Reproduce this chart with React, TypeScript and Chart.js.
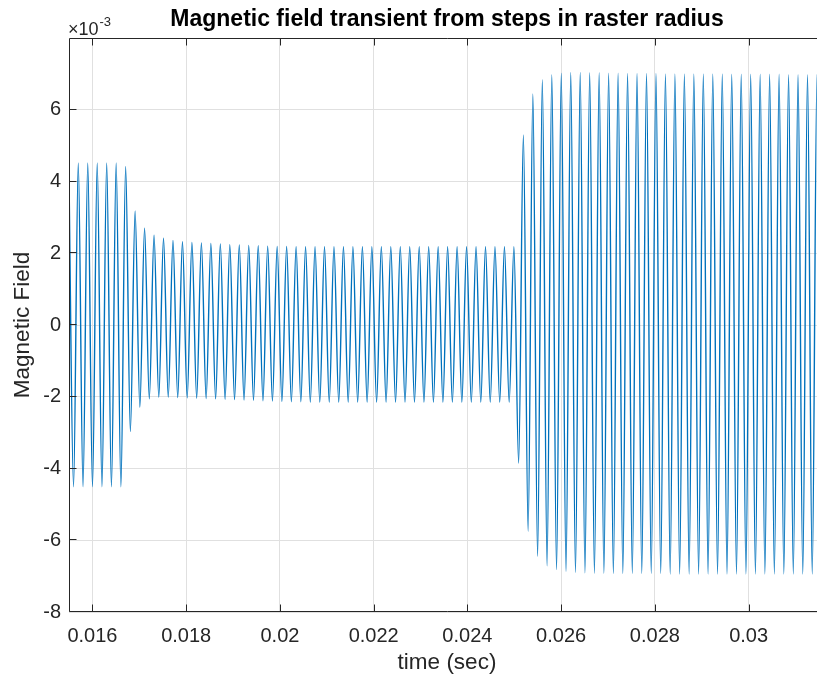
import { useEffect, useRef } from 'react';
import { Chart, registerables } from 'chart.js';

Chart.register(...registerables);

const TITLE = 'Magnetic field transient from steps in raster radius';
const X_LABEL = 'time (sec)';
const Y_LABEL = 'Magnetic Field';
const Y_EXP_BASE = '×10';
const Y_EXP_POWER = '-3';

const X_MIN = 0.0155;
const X_MAX = 0.03163;
const Y_MIN = -8;
const Y_MAX = 8;

const X_TICKS = [0.016, 0.018, 0.02, 0.022, 0.024, 0.026, 0.028, 0.03];
const X_TICK_LABELS = ['0.016', '0.018', '0.02', '0.022', '0.024', '0.026', '0.028', '0.03'];
const Y_TICKS = [-8, -6, -4, -2, 0, 2, 4, 6];
const Y_TICK_LABELS = ['-8', '-6', '-4', '-2', '0', '2', '4', '6'];

// time of the first extremum (a positive peak at the left edge) and the
// spacing between successive extrema (half an oscillation period), in seconds
const T_START = 0.015496;
const HALF_PERIOD = 0.00010103;

// positive peaks (units of 1e-3)
const PEAKS = [
  4.5, 4.52, 4.52, 4.52, 4.52, 4.52, 4.42, 3.18, 2.7, 2.5, 2.42, 2.36, 2.32,
  2.3, 2.29, 2.27, 2.26, 2.24, 2.23, 2.22, 2.21, 2.2, 2.19, 2.19, 2.18, 2.18,
  2.18, 2.18, 2.18, 2.18, 2.18, 2.18, 2.18, 2.18, 2.18, 2.18, 2.18,
  2.18, 2.18, 2.18, 2.18, 2.18, 2.18, 2.18, 2.18, 2.18, 2.18, 2.18,
  5.3, 6.44, 6.84, 6.98, 7.02, 7.04, 7.04, 7.03, 7.03, 7.02, 7.02, 7.01, 7.01,
  7.01, 7.01, 7.0,
  7.0, 7.0, 7.0, 7.0, 7.0, 7.0, 6.99, 6.99, 6.99, 6.99, 6.99, 6.99, 6.98, 6.98,
  6.98, 6.98, 6.98,
];

// negative troughs (units of 1e-3)
const TROUGHS = [
  -4.51, -4.51, -4.51, -4.51, -4.51, -4.51, -2.97, -2.29, -2.06, -2.01, -2.01,
  -2.02, -2.03, -2.04, -2.05, -2.06, -2.07, -2.08, -2.09, -2.1, -2.11, -2.12,
  -2.13, -2.14, -2.14, -2.15,
  -2.15, -2.15, -2.15, -2.15, -2.15, -2.15, -2.15, -2.15, -2.15, -2.15, -2.15,
  -2.15, -2.15, -2.15, -2.15, -2.15, -2.15, -2.15, -2.15, -2.15, -2.15,
  -3.85, -5.75, -6.45, -6.71, -6.82, -6.87, -6.9, -6.91, -6.92, -6.92, -6.93,
  -6.93, -6.93, -6.93, -6.93, -6.93, -6.94, -6.94, -6.94, -6.94, -6.94, -6.94,
  -6.94, -6.94, -6.94, -6.94, -6.94, -6.94, -6.94, -6.94, -6.94, -6.94, -6.94,
];

const FONT = '"Liberation Sans", Arial, Helvetica, sans-serif';
const TEXT_COLOR = '#262626';
const GRID_COLOR = '#e0e0e0';
const LINE_COLOR = '#0072BD';

function buildPoints() {
  const pts: { x: number; y: number }[] = [];
  const n = PEAKS.length + TROUGHS.length;
  for (let i = 0; i < n; i++) {
    const y = i % 2 === 0 ? PEAKS[i / 2] : TROUGHS[(i - 1) / 2];
    pts.push({ x: T_START + i * HALF_PERIOD, y });
  }
  return pts;
}

const axesBoxPlugin = {
  id: 'axesBox',
  afterDraw(chart: any) {
    const { ctx, chartArea, scales } = chart;
    const { left, right, top, bottom } = chartArea;
    const L = Math.round(left) + 0.5;
    const T = Math.round(top) + 0.5;
    const B = Math.round(bottom) - 0.5;
    ctx.save();
    ctx.strokeStyle = TEXT_COLOR;
    ctx.lineWidth = 1;
    ctx.beginPath();
    ctx.moveTo(right + 2, T);
    ctx.lineTo(L, T);
    ctx.lineTo(L, B);
    ctx.lineTo(right + 2, B);
    const tl = 7;
    X_TICKS.forEach((v) => {
      const px = Math.round(scales.x.getPixelForValue(v)) + 0.5;
      ctx.moveTo(px, B);
      ctx.lineTo(px, B - tl);
      ctx.moveTo(px, T);
      ctx.lineTo(px, T + tl);
    });
    Y_TICKS.forEach((v) => {
      const py = Math.round(scales.y.getPixelForValue(v)) - 0.5;
      ctx.moveTo(L, py);
      ctx.lineTo(L + tl, py);
    });
    ctx.stroke();

    ctx.fillStyle = TEXT_COLOR;
    ctx.textAlign = 'left';
    ctx.textBaseline = 'alphabetic';
    ctx.font = `18px ${FONT}`;
    const bx = left - 1;
    ctx.fillText(Y_EXP_BASE, bx, top - 3);
    const w = ctx.measureText(Y_EXP_BASE).width;
    ctx.font = `13px ${FONT}`;
    ctx.fillText(Y_EXP_POWER, bx + w + 1, top - 12);
    ctx.restore();
  },
};

export default function App() {
  const canvasRef = useRef<HTMLCanvasElement | null>(null);

  useEffect(() => {
    const canvas = canvasRef.current;
    if (!canvas) return;
    const chart = new Chart(canvas, {
      type: 'line',
      data: {
        datasets: [
          {
            data: buildPoints(),
            borderColor: LINE_COLOR,
            borderWidth: 1.4,
            pointRadius: 0,
            fill: false,
            cubicInterpolationMode: 'monotone',
          },
        ],
      },
      options: {
        animation: false,
        responsive: false,
        devicePixelRatio: 1,
        layout: { padding: 0 },
        plugins: {
          legend: { display: false },
          tooltip: { enabled: false },
          title: {
            display: true,
            text: TITLE,
            fullSize: false,
            color: '#000',
            font: { family: FONT, size: 23, weight: 'bold' },
            padding: { top: 5.5, bottom: 4.9 },
          },
        },
        scales: {
          x: {
            type: 'linear',
            min: X_MIN,
            max: X_MAX,
            afterBuildTicks: (s: any) => {
              s.ticks = X_TICKS.map((v) => ({ value: v }));
            },
            afterFit: (s: any) => {
              s.height = 70;
            },
            ticks: {
              autoSkip: false,
              maxRotation: 0,
              padding: 12,
              color: TEXT_COLOR,
              font: { family: FONT, size: 20 },
              callback: (_v: any, i: number) => X_TICK_LABELS[i],
            },
            grid: { color: GRID_COLOR, drawTicks: false, lineWidth: 1 },
            border: { display: false },
            title: {
              display: true,
              text: X_LABEL,
              color: TEXT_COLOR,
              font: { family: FONT, size: 22.5 },
              padding: { top: 0, bottom: 5.5 },
            },
          },
          y: {
            type: 'linear',
            min: Y_MIN,
            max: Y_MAX,
            afterBuildTicks: (s: any) => {
              s.ticks = Y_TICKS.map((v) => ({ value: v }));
            },
            afterFit: (s: any) => {
              s.width = 69;
            },
            ticks: {
              autoSkip: false,
              padding: 8,
              color: TEXT_COLOR,
              font: { family: FONT, size: 20 },
              callback: (_v: any, i: number) => Y_TICK_LABELS[i],
            },
            grid: { color: GRID_COLOR, drawTicks: false, lineWidth: 1 },
            border: { display: false },
            title: {
              display: true,
              text: Y_LABEL,
              color: TEXT_COLOR,
              font: { family: FONT, size: 22.5 },
              padding: { top: 9.5, bottom: 0 },
            },
          },
        },
      },
      plugins: [axesBoxPlugin],
    } as any);
    return () => chart.destroy();
  }, []);

  return (
    <div
      style={{
        position: 'fixed',
        left: 0,
        top: 0,
        width: 817,
        height: 682,
        overflow: 'hidden',
        background: '#fff',
      }}
    >
      <canvas
        ref={canvasRef}
        width={825}
        height={682}
        style={{ display: 'block', width: 825, height: 682 }}
      />
    </div>
  );
}
